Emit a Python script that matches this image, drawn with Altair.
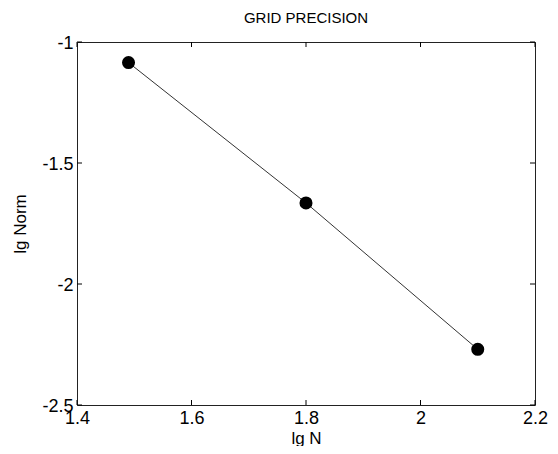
import altair as alt
import pandas as pd

# Data
lg_n = [1.49, 1.80, 2.10]
lg_norm = [-1.085, -1.665, -2.27]

x_ticks = [1.4, 1.6, 1.8, 2.0, 2.2]
y_ticks = [-2.5, -2.0, -1.5, -1.0]

W, H = 458, 363
FONT = "Liberation Sans"

pts = pd.DataFrame({"x": lg_n, "y": lg_norm})
xt = pd.DataFrame({"x": x_ticks})
yt = pd.DataFrame({"y": y_ticks})

xscale = alt.Scale(domain=[1.4, 2.2], nice=False, zero=False)
yscale = alt.Scale(domain=[-2.5, -1.0], nice=False, zero=False)

xaxis = alt.Axis(
    values=x_ticks, labelExpr="'' + datum.value", grid=False, domain=False,
    ticks=False, labelFontSize=18, labelFont=FONT, labelColor="black",
    labelPadding=4, labelFlush=False, title="lg N", titleFont=FONT,
    titleFontSize=17, titleFontWeight="normal", titleColor="black",
    titlePadding=3,
)
yaxis = alt.Axis(
    values=y_ticks, labelExpr="'' + datum.value", grid=False, domain=False,
    ticks=False, labelFontSize=18, labelFont=FONT, labelColor="black",
    labelPadding=4, labelFlush=False, labelOffset=1, title="lg Norm",
    titleFont=FONT, titleFontSize=17, titleFontWeight="normal",
    titleColor="black", titlePadding=12,
)

line = alt.Chart(pts).mark_line(color="#333333", strokeWidth=1).encode(
    x=alt.X("x:Q", scale=xscale, axis=xaxis),
    y=alt.Y("y:Q", scale=yscale, axis=yaxis),
)
dots = alt.Chart(pts).mark_point(
    filled=True, shape="circle", size=170, color="black", opacity=1
).encode(x="x:Q", y="y:Q")

tb = alt.Chart(xt).mark_rule(color="black", strokeWidth=1).encode(
    x="x:Q", y=alt.value(H), y2=alt.value(H - 5)
)
tt = alt.Chart(xt).mark_rule(color="black", strokeWidth=1).encode(
    x="x:Q", y=alt.value(0), y2=alt.value(5)
)
tl = alt.Chart(yt).mark_rule(color="black", strokeWidth=1).encode(
    y="y:Q", x=alt.value(0), x2=alt.value(5)
)
tr = alt.Chart(yt).mark_rule(color="black", strokeWidth=1).encode(
    y="y:Q", x=alt.value(W), x2=alt.value(W - 5)
)

chart = (
    alt.layer(line, tb, tt, tl, tr, dots)
    .properties(
        width=W,
        height=H,
        view=alt.ViewBackground(stroke="#222222", strokeWidth=1, fill="white"),
        title=alt.TitleParams(
            "GRID PRECISION", font=FONT, fontSize=15, fontWeight="normal",
            color="black", offset=8,
        ),
        autosize=alt.AutoSizeParams(type="none"),
        padding={"left": 69, "top": 34, "right": 15, "bottom": 41},
    )
    .configure(background="white")
)

chart.save("out.html", embed_options={"renderer": "svg", "actions": False})
